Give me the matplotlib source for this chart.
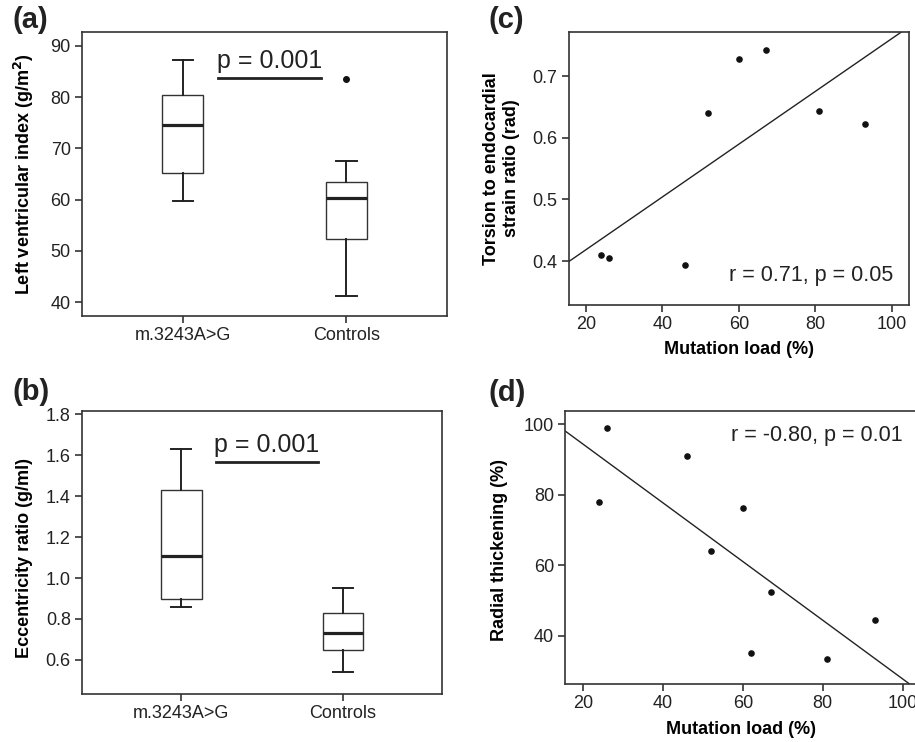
import numpy as np
import matplotlib
matplotlib.use('Agg')
import matplotlib.pyplot as plt

plt.rcParams['font.family'] = ['Liberation Sans', 'DejaVu Sans']
plt.rcParams['text.color'] = '#222222'
plt.rcParams['axes.edgecolor'] = '#333333'
plt.rcParams['xtick.color'] = '#333333'
plt.rcParams['ytick.color'] = '#333333'
plt.rcParams['xtick.labelcolor'] = '#222222'
plt.rcParams['ytick.labelcolor'] = '#222222'

groups = ['m.3243A>G', 'Controls']

# (a) left ventricular index: whislo, q1, med, q3, whishi, outliers
lvi_stats = [
    [59.7, 65.1, 74.6, 80.4, 87.2, []],
    [41.3, 52.4, 60.3, 63.4, 67.6, [83.6]],
]
# (b) eccentricity ratio
ecc_stats = [
    [0.86, 0.90, 1.11, 1.43, 1.63, []],
    [0.54, 0.65, 0.73, 0.83, 0.95, []],
]
p_ab = 'p = 0.001'

# (c) torsion to endocardial strain ratio vs mutation load
load_c = [24, 26, 46, 52, 60, 67, 81, 93]
torsion = [0.410, 0.405, 0.393, 0.640, 0.728, 0.743, 0.643, 0.623]
stat_c = 'r = 0.71, p = 0.05'

# (d) radial thickening vs mutation load
load_d = [24, 26, 46, 52, 60, 67, 62, 81, 93]
radial = [77.9, 98.9, 91.0, 64.1, 76.4, 52.3, 35.0, 33.4, 44.5]
stat_d = 'r = -0.80, p = 0.01'

fig = plt.figure(figsize=(9.15, 7.42), dpi=100)

ax_a = fig.add_axes([0.0896, 0.5741, 0.3989, 0.3828])
ax_b = fig.add_axes([0.0896, 0.0643, 0.3935, 0.3822])
ax_c = fig.add_axes([0.6215, 0.5889, 0.3719, 0.3680])
ax_d = fig.add_axes([0.6178, 0.0778, 0.3844, 0.3687])

tick_fs = 13
lab_fs = 13


def style(ax):
    ax.tick_params(direction='out', length=5, width=1.2, labelsize=tick_fs,
                   top=False, right=False, pad=3)
    for s in ax.spines.values():
        s.set_linewidth(1.2)


def boxpanel(ax, stats, ylab, ylim, yticks, fmt, ptext, pline_y, ptext_y):
    bx = []
    for name, st in zip(groups, stats):
        bx.append(dict(label=name, whislo=st[0], q1=st[1], med=st[2],
                       q3=st[3], whishi=st[4], fliers=st[5]))
    ax.bxp(bx, positions=[1, 2], widths=0.25, patch_artist=True,
           boxprops=dict(facecolor='white', edgecolor='#333333', linewidth=1.0),
           medianprops=dict(color='#222222', linewidth=2.3),
           whiskerprops=dict(color='#222222', linewidth=1.4),
           capprops=dict(color='#222222', linewidth=1.4),
           flierprops=dict(marker='o', markersize=4, markerfacecolor='#111111',
                           markeredgecolor='#111111'),
           capwidths=0.125)
    ax.set_xlim(0.384, 2.615)
    ax.set_ylim(*ylim)
    ax.set_yticks(yticks)
    ax.set_yticklabels([fmt.format(v) for v in yticks])
    ax.set_xticks([1, 2])
    ax.set_xticklabels(groups)
    ax.set_ylabel(ylab, fontsize=lab_fs, fontweight='bold')
    ax.plot([1.215, 1.845], [pline_y, pline_y], color='#222222', lw=2)
    ax.text(1.53, ptext_y, ptext, fontsize=18, ha='center', va='baseline')
    style(ax)


boxpanel(ax_a, lvi_stats, 'Left ventricular index (g/m$\\mathbf{^2}$)',
         (37.3, 92.7), [40, 50, 60, 70, 80, 90], '{:d}', p_ab, 83.75, 85.6)
ax_a.yaxis.set_label_coords(-0.126, 0.5)

boxpanel(ax_b, ecc_stats, 'Eccentricity ratio (g/ml)',
         (0.432, 1.818), [0.6, 0.8, 1.0, 1.2, 1.4, 1.6, 1.8], '{:.1f}', p_ab,
         1.567, 1.617)
ax_b.yaxis.set_label_coords(-0.136, 0.48)


def scatterpanel(ax, x, y, ylab, xlim, ylim, yticks, fmt, stat, stat_xy):
    ax.scatter(x, y, s=14, color='#111111', zorder=3)
    slope, icpt = np.polyfit(x, y, 1)
    xs = np.array(xlim)
    ax.plot(xs, icpt + slope * xs, color='#222222', lw=1)
    ax.set_xlim(*xlim)
    ax.set_ylim(*ylim)
    ax.set_xticks([20, 40, 60, 80, 100])
    ax.set_yticks(yticks)
    ax.set_yticklabels([fmt.format(v) for v in yticks])
    ax.set_xlabel('Mutation load (%)', fontsize=lab_fs, fontweight='bold',
                  labelpad=6)
    ax.set_ylabel(ylab, fontsize=lab_fs, fontweight='bold')
    ax.text(stat_xy[0], stat_xy[1], stat, fontsize=15.5, ha='right',
            va='center', transform=ax.transAxes)
    style(ax)


scatterpanel(ax_c, load_c, torsion,
             'Torsion to endocardial\nstrain ratio (rad)',
             (15.5, 104.5), (0.3285, 0.772), [0.4, 0.5, 0.6, 0.7], '{:.1f}',
             stat_c, (0.955, 0.11))
ax_c.yaxis.set_label_coords(-0.143, 0.5)

scatterpanel(ax_d, load_d, radial, 'Radial thickening (%)',
             (15.5, 103.6), (26.2, 103.9), [40, 60, 80, 100], '{:d}',
             stat_d, (0.96, 0.91))
ax_d.yaxis.set_label_coords(-0.163, 0.49)

fig.text(12 / 915, 1 - 20 / 742, '(a)', fontsize=21, fontweight='bold',
         va='center', ha='left')
fig.text(12 / 915, 1 - 392 / 742, '(b)', fontsize=21, fontweight='bold',
         va='center', ha='left')
fig.text(488 / 915, 1 - 20 / 742, '(c)', fontsize=21, fontweight='bold',
         va='center', ha='left')
fig.text(488 / 915, 1 - 393 / 742, '(d)', fontsize=21, fontweight='bold',
         va='center', ha='left')

fig.savefig('out.png', dpi=100)
plt.close(fig)
